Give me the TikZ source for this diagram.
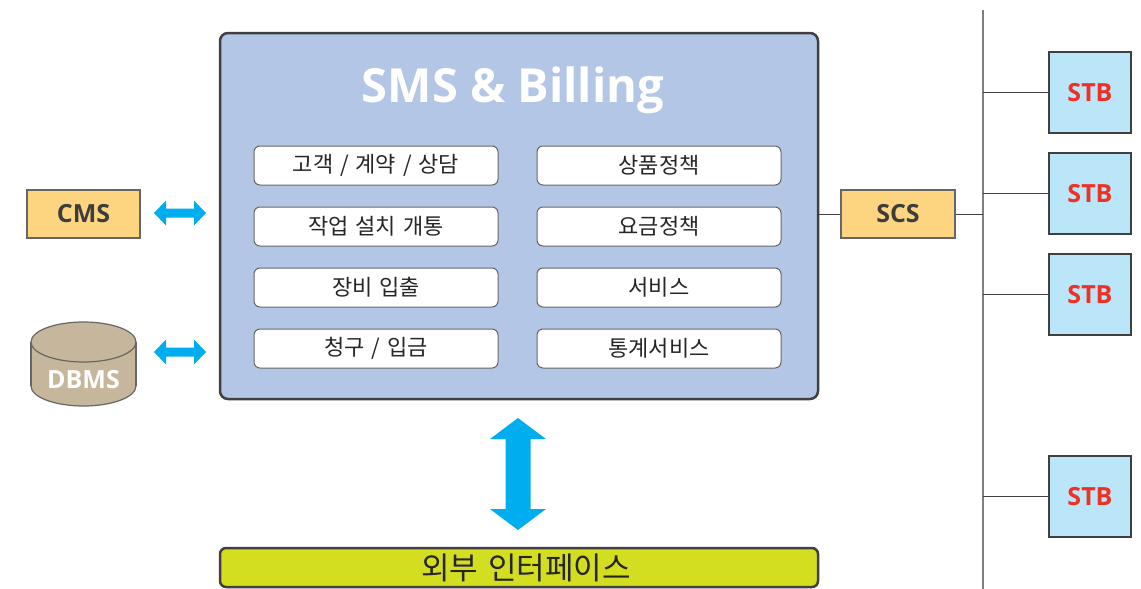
\documentclass[tikz,border=0pt]{standalone}
\usepackage{fontspec}
\setmainfont{Open Sans}
\newfontfamily\kr[WordSpace=1.4]{Noto Sans CJK KR}
\definecolor{mainblue}{HTML}{B3C6E6}
\definecolor{cmsorange}{HTML}{FDD581}
\definecolor{dbtan}{HTML}{C6B79C}
\definecolor{arrowblue}{HTML}{00AEEF}
\definecolor{stbblue}{HTML}{BBE5F8}
\definecolor{ifyellow}{HTML}{D4DE21}
\definecolor{bordergray}{HTML}{404040}
\definecolor{stbred}{HTML}{EE3124}
\definecolor{labelgray}{HTML}{3D3D3D}
\begin{document}
\begin{tikzpicture}[x=1pt,y=-1pt,
  mainbox/.style={draw=bordergray, line width=2.5pt, fill=mainblue, rounded corners=8pt, minimum width=598pt, minimum height=366pt, inner sep=0pt},
  subbox/.style={draw=bordergray!80, line width=1pt, fill=white, rounded corners=6pt, minimum width=244pt, minimum height=39pt, inner sep=0pt, font=\kr\fontsize{22}{24}\selectfont, text=black!85},
  orbox/.style={draw=bordergray!80, line width=1.2pt, fill=cmsorange, minimum height=48pt, inner sep=0pt, font=\bfseries\fontsize{25}{27}\selectfont, text=labelgray},
  stbbox/.style={draw=bordergray, line width=1.5pt, fill=stbblue, minimum width=82pt, minimum height=81pt, inner sep=0pt, font=\bfseries\fontsize{25}{27}\selectfont, text=stbred},
  ifbox/.style={draw=bordergray, line width=2.5pt, fill=ifyellow, rounded corners=6pt, minimum width=598pt, minimum height=39pt, inner sep=0pt, font=\kr\fontsize{31}{33}\selectfont, text=black!85},
  link/.style={draw=bordergray, line width=1pt},
  hdarrow/.pic={\fill[arrowblue] (-26,0) -- (-14,-12.5) -- (-14,-4.5) -- (14,-4.5) -- (14,-12.5) -- (26,0) -- (14,12.5) -- (14,4.5) -- (-14,4.5) -- (-14,12.5) -- cycle;},
  vdarrow/.pic={\fill[arrowblue] (0,-56) -- (28,-35) -- (12.5,-35) -- (12.5,35) -- (28,35) -- (0,56) -- (-28,35) -- (-12.5,35) -- (-12.5,-35) -- (-28,-35) -- cycle;}
]
\useasboundingbox (0,0) rectangle (1141,589);
\fill[white] (0,0) rectangle (1141,589);

% main box
\node[mainbox] (sms) at (519,216) {};
\node[text=white, font=\bfseries\fontsize{47}{50}\selectfont] (title) at (513,90) {SMS \& Billing};

\node[subbox] (b1) at (376,165.5) {고객 / 계약 / 상담};
\node[subbox] (b2) at (659,165.5) {상품정책};
\node[subbox] (b3) at (376,226.5) {작업 설치 개통};
\node[subbox] (b4) at (659,226.5) {요금정책};
\node[subbox] (b5) at (376,287.5) {장비 입출};
\node[subbox] (b6) at (659,287.5) {서비스};
\node[subbox] (b7) at (376,348.5) {청구 / 입금};
\node[subbox] (b8) at (659,348.5) {통계서비스};

% CMS
\node[orbox, minimum width=113pt] (cms) at (83.5,214) {CMS};

% DBMS cylinder
\filldraw[fill=dbtan, draw=bordergray!80, line width=1.2pt] (83.5,386) ellipse [x radius=52.5pt, y radius=20pt];
\fill[dbtan] (31,342) rectangle (136,386);
\draw[bordergray!80, line width=1.2pt] (31,342) -- (31,386) (136,342) -- (136,386);
\filldraw[fill=dbtan, draw=bordergray!80, line width=1.2pt] (83.5,342) ellipse [x radius=52.5pt, y radius=20pt];
\node[text=white, font=\bfseries\fontsize{25}{27}\selectfont] (dbms) at (83.5,380) {DBMS};

% arrows
\pic (a1) at (180,213) {hdarrow};
\pic (a2) at (180,352) {hdarrow};
\pic (a3) at (518,474) {vdarrow};

% interface
\node[ifbox] (if) at (519,567.5) {\hspace*{14pt}외부 인터페이스};

% SCS
\node[orbox, minimum width=114pt] (scs) at (898,214) {SCS};
\coordinate (bustop) at (983,10);
\coordinate (busbot) at (983,589);
\draw[gray, line width=1.5pt] (bustop) -- (busbot);

\node[stbbox] (s1) at (1090,92.5) {STB};
\node[stbbox] (s2) at (1090,193.5) {STB};
\node[stbbox] (s3) at (1090,294.5) {STB};
\node[stbbox] (s4) at (1090,496.5) {STB};

\draw[link] (sms.east |- scs.west) -- (scs.west);
\draw[link] (scs.east) -- (scs.east -| bustop);
\foreach \s in {s1,s2,s3,s4}{
  \draw[link] (\s.west -| bustop) -- (\s.west);
}
\end{tikzpicture}
\end{document}
